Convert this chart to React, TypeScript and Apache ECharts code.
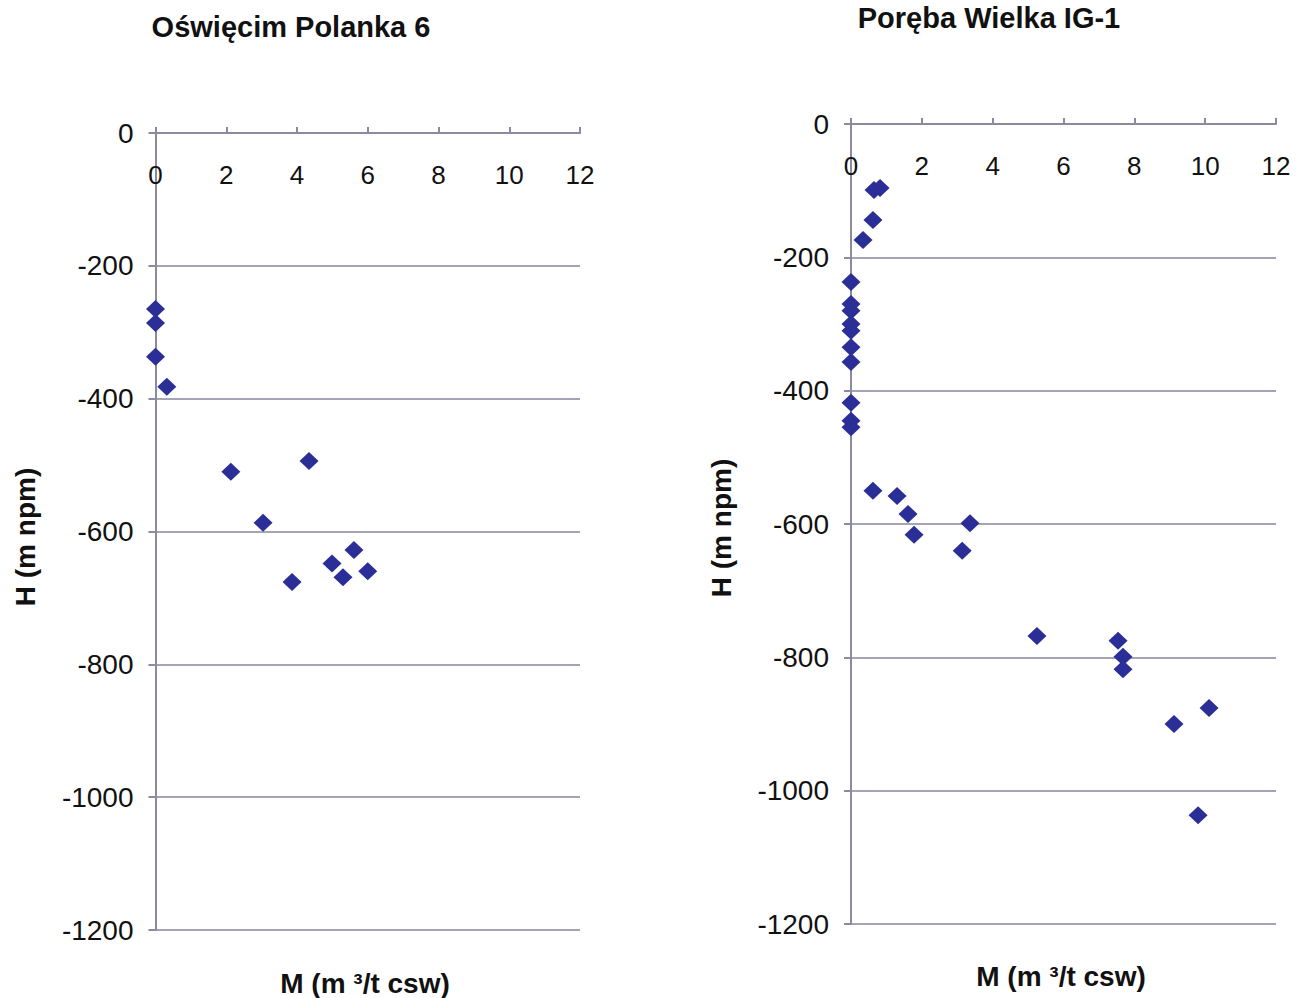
import React, { useEffect, useRef } from "react";
import * as echarts from "echarts";

const titles = ["Oświęcim Polanka 6", "Poręba Wielka IG-1"];
const xAxisName = "M (m ³/t csw)";
const yAxisName = "H (m npm)";

const oswiecimM = [0, 0, 0, 0.32, 2.13, 4.34, 3.04, 3.86, 4.99, 5.3, 5.61, 6.0];
const oswiecimH = [-265, -286, -337, -382, -510, -494, -587, -676, -648, -669, -628, -660];

const porebaM = [
  0.65, 0.82, 0.62, 0.34,
  0, 0, 0, 0, 0, 0, 0, 0, 0, 0,
  0.62, 1.3, 1.61, 1.78, 3.36, 3.14,
  5.25, 7.54, 7.68, 7.68, 9.12, 10.11, 9.8,
];
const porebaH = [
  -99, -96, -144, -174,
  -237, -270, -280, -300, -310, -335, -357, -418, -445, -455,
  -550, -558, -585, -616, -599, -640,
  -768, -775, -799, -818, -900, -876, -1037,
];

const FONT = "'Liberation Sans', Arial, Helvetica, sans-serif";
const AXIS_COLOR = "#8a8aa0";
const GRID_COLOR = "#a4a4b6";
const POINT_COLOR = "#2b2e96";
const TEXT_COLOR = "#111111";

function pairs(xs: number[], ys: number[]) {
  return xs.map((x, i) => [x, ys[i]]);
}

export default function App() {
  const ref = useRef<HTMLDivElement>(null);
  useEffect(() => {
    if (!ref.current) return;
    const chart = echarts.init(ref.current, undefined, { renderer: "svg" });
    const grids = [
      { left: 155.5, top: 133, width: 424.5, height: 797 },
      { left: 851, top: 124, width: 425, height: 800 },
    ];
    const mkX = (gi: number) => ({
      type: "value",
      gridIndex: gi,
      position: "top",
      min: 0,
      max: 12,
      interval: 2,
      axisLine: { show: true, onZero: false, lineStyle: { color: AXIS_COLOR, width: 2 } },
      axisTick: { show: true, inside: false, length: 6, lineStyle: { color: AXIS_COLOR, width: 2 } },
      axisLabel: {
        inside: true,
        margin: 29,
        fontSize: 26,
        color: TEXT_COLOR,
        fontFamily: FONT,
        formatter: (v: number) => String(v),
      },
      splitLine: { show: false },
    });
    const mkY = (gi: number) => ({
      type: "value",
      gridIndex: gi,
      min: -1200,
      max: 0,
      interval: 200,
      axisLine: { show: true, onZero: false, lineStyle: { color: AXIS_COLOR, width: 2 } },
      axisTick: { show: true, inside: false, length: 7, lineStyle: { color: AXIS_COLOR, width: 2 } },
      axisLabel: {
        margin: 22,
        fontSize: 28,
        color: TEXT_COLOR,
        fontFamily: FONT,
        formatter: (v: number) => String(v),
      },
      splitLine: { show: true, lineStyle: { color: GRID_COLOR, width: 2 } },
    });
    const textStyle = (t: string, fs: number) => ({
      text: t,
      fontSize: fs,
      fontWeight: "bold",
      fill: TEXT_COLOR,
      fontFamily: FONT,
      align: "center",
      verticalAlign: "middle",
    });
    const scatter = (xi: number, xs: number[], ys: number[]) => ({
      type: "scatter",
      xAxisIndex: xi,
      yAxisIndex: xi,
      symbol: "diamond",
      symbolSize: [19, 18],
      itemStyle: { color: POINT_COLOR, opacity: 1 },
      data: pairs(xs, ys),
    });
    chart.setOption({
      animation: false,
      backgroundColor: "#ffffff",
      grid: grids,
      xAxis: [mkX(0), mkX(1)],
      yAxis: [mkY(0), mkY(1)],
      series: [scatter(0, oswiecimM, oswiecimH), scatter(1, porebaM, porebaH)],
      graphic: [
        { type: "text", x: 291, y: 27, style: textStyle(titles[0], 29) },
        { type: "text", x: 989, y: 18, style: textStyle(titles[1], 29) },
        { type: "text", x: 365, y: 983, style: textStyle(xAxisName, 28) },
        { type: "text", x: 1061, y: 976, style: textStyle(xAxisName, 28) },
        { type: "text", x: 25, y: 537, rotation: Math.PI / 2, style: textStyle(yAxisName, 28) },
        { type: "text", x: 721, y: 528, rotation: Math.PI / 2, style: textStyle(yAxisName, 28) },
      ],
    });
    return () => chart.dispose();
  }, []);
  return (
    <div
      ref={ref}
      style={{ position: "fixed", left: 0, top: 0, width: 1303, height: 998, background: "#fff" }}
    />
  );
}
